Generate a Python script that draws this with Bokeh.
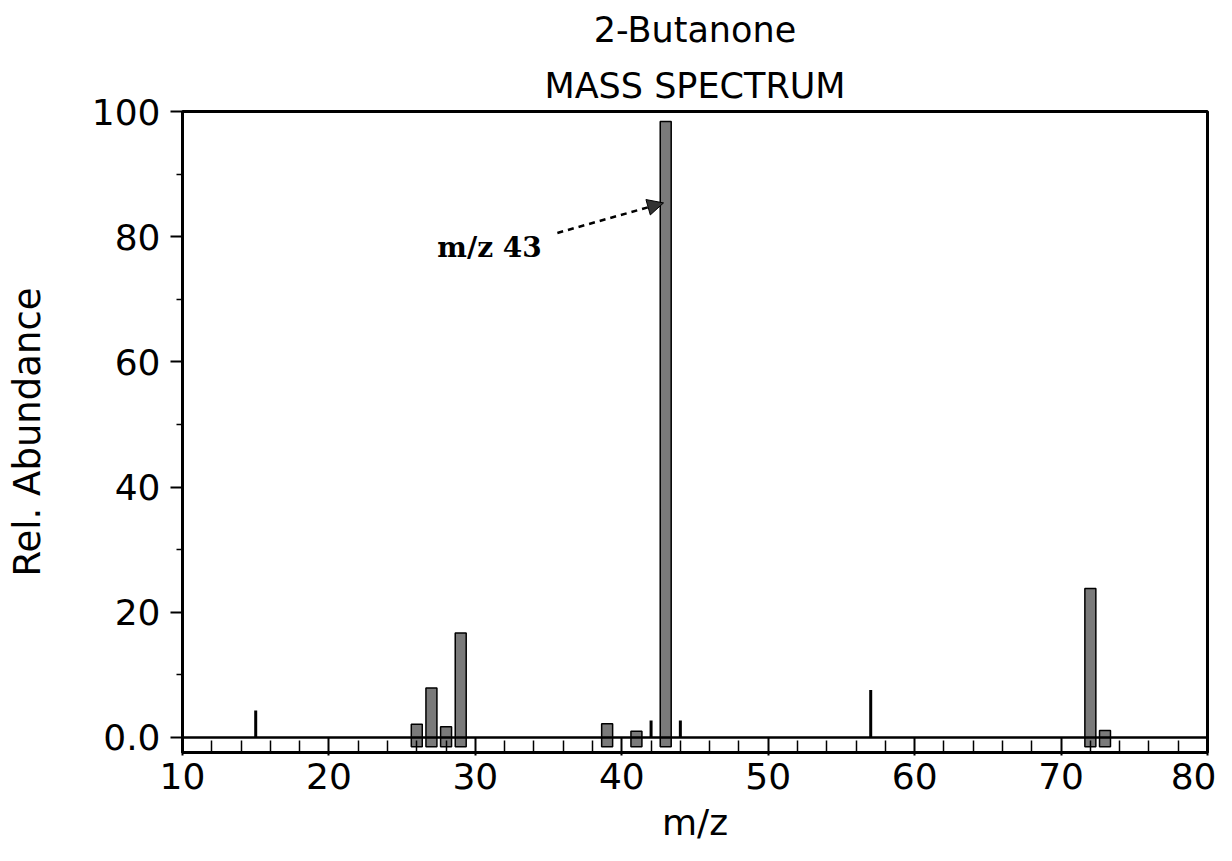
from bokeh.plotting import figure
from bokeh.models import FixedTicker, Span, Label, Arrow, NormalHead, ColumnDataSource, Title
from bokeh.embed import file_html
from bokeh.resources import INLINE

# ---- data ----
bar_mz = [26, 27, 28, 29, 39, 41, 43, 72, 73]
bar_abund = [2.1, 7.9, 1.7, 16.7, 2.2, 1.0, 98.4, 23.8, 1.1]
line_mz = [15, 42, 44, 57]
line_abund = [4.3, 2.7, 2.7, 7.6]

x_ticks = [10, 20, 30, 40, 50, 60, 70, 80]
x_minor = [12, 14, 16, 18, 22, 24, 26, 28, 32, 34, 36, 38, 42, 44, 46, 48,
           52, 54, 56, 58, 62, 64, 66, 68, 72, 74, 76, 78]
y_ticks = [0, 20, 40, 60, 80, 100]
y_minor = [10, 30, 50, 70, 90]
y_labels = {0: "0.0", 20: "20", 40: "40", 60: "60", 80: "80", 100: "100"}

title_lines = ["2-Butanone", "MASS SPECTRUM"]
annot_text = "m/z 43"

FONT = "DejaVu Sans"

p = figure(width=1216, height=845, x_range=(10, 80), y_range=(-2.4, 100),
           output_backend="svg", toolbar_location=None,
           min_border_left=182, min_border_right=9,
           min_border_top=0, min_border_bottom=90)
p.xgrid.visible = False
p.ygrid.visible = False
p.outline_line_color = "black"
p.outline_line_width = 3
p.background_fill_color = "white"
p.border_fill_color = "white"

bars = ColumnDataSource(dict(x=bar_mz, top=bar_abund))
p.vbar(x="x", top="top", bottom=-1.5, width=0.75, source=bars,
       fill_color="#7a7a7a", line_color="black", line_width=1.5)
lines = ColumnDataSource(dict(x=line_mz, top=line_abund))
p.segment(x0="x", y0=0, x1="x", y1="top", source=lines,
          line_color="black", line_width=3)

p.add_layout(Span(location=0, dimension="width", line_color="black", line_width=2.5))

# axes
xa = p.xaxis[0]
xa.ticker = FixedTicker(ticks=x_ticks, minor_ticks=x_minor)
xa.axis_label = "m/z"
xa.axis_label_text_font = FONT
xa.axis_label_text_font_style = "normal"
xa.axis_label_text_font_size = "36px"
xa.axis_label_text_color = "black"
xa.axis_label_standoff = 10
xa.major_label_text_font = FONT
xa.major_label_text_font_size = "36px"
xa.major_label_text_color = "black"
xa.major_label_standoff = 7
xa.axis_line_color = None
xa.major_tick_in = 15
xa.major_tick_out = 3
xa.major_tick_line_width = 2
xa.minor_tick_in = 12
xa.minor_tick_out = 0
xa.minor_tick_line_width = 1.5

ya = p.yaxis[0]
ya.ticker = FixedTicker(ticks=y_ticks, minor_ticks=y_minor)
ya.major_label_overrides = y_labels
ya.axis_label = "Rel. Abundance"
ya.axis_label_text_font = FONT
ya.axis_label_text_font_style = "normal"
ya.axis_label_text_font_size = "37px"
ya.axis_label_text_color = "black"
ya.axis_label_standoff = 40
ya.major_label_text_font = FONT
ya.major_label_text_font_size = "36px"
ya.major_label_text_color = "black"
ya.major_label_standoff = 10
ya.axis_line_width = 3
ya.major_tick_in = 0
ya.major_tick_out = 12
ya.major_tick_line_width = 2
ya.minor_tick_in = 0
ya.minor_tick_out = 6
ya.minor_tick_line_width = 1.5

# titles above the frame
p.add_layout(Title(text=title_lines[1], align="center", text_font=FONT,
                   text_font_size="35px", text_font_style="normal",
                   text_color="black", standoff=12), "above")
p.add_layout(Title(text=title_lines[0], align="center", text_font=FONT,
                   text_font_size="35px", text_font_style="normal",
                   text_color="black", standoff=15), "above")

# annotation
p.add_layout(Label(x=27.4, y=78.3, text=annot_text, text_align="left",
                   text_baseline="alphabetic", text_font="DejaVu Serif",
                   text_font_style="bold", text_font_size="28px", text_color="black"))
p.add_layout(Arrow(x_start=35.6, y_start=80.6, x_end=42.85, y_end=85.4,
                   line_color="black", line_width=2.5, line_dash="6 5",
                   end=NormalHead(size=16, fill_color="#333333", line_color="black")))

open("out.html", "w").write(file_html(p, INLINE))
